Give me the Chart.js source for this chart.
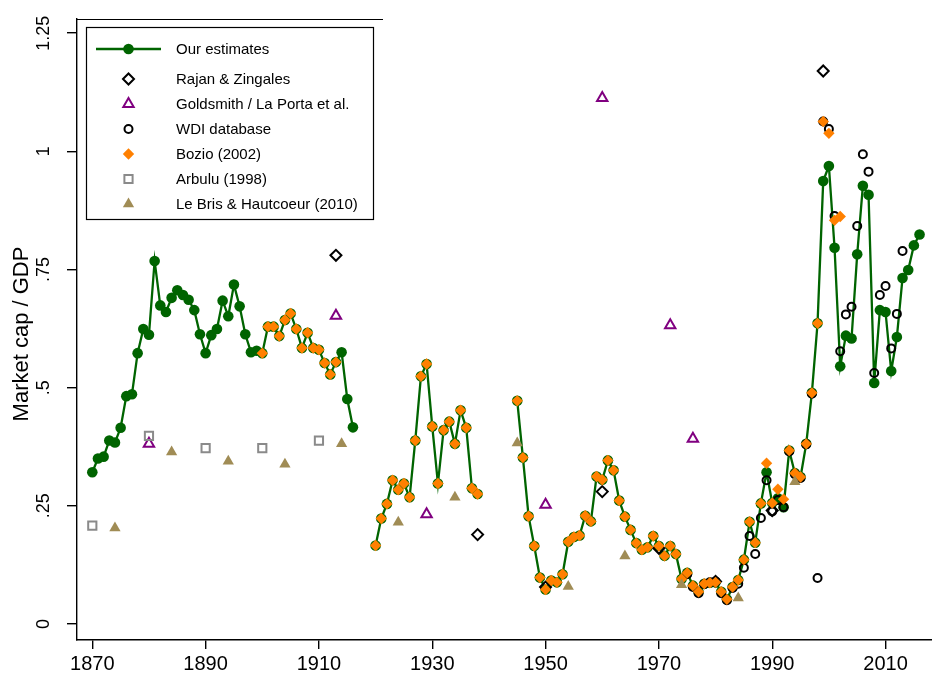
<!DOCTYPE html>
<html>
<head>
<meta charset="utf-8">
<script src="https://cdn.jsdelivr.net/npm/chart.js@4.4.1/dist/chart.umd.min.js"></script>
<style>
  html, body { margin: 0; padding: 0; background: #fff; }
</style>
</head>
<body>
<canvas id="myChart" width="932" height="673"></canvas>
<script>
// tick labels
const xTicks = [1870, 1890, 1910, 1930, 1950, 1970, 1990, 2010];
const yTicks = [0, 0.25, 0.5, 0.75, 1, 1.25];
const yTickLabels = ["0", ".25", ".5", ".75", "1", "1.25"];

// Our estimates, one value per year from 1870 (null = no data)
const estStart = 1870;
const estValues = [
  0.321, 0.35, 0.354, 0.388, 0.384, 0.415, 0.482, 0.486, 0.573, 0.624,
  0.612, 0.768, 0.674, 0.66, 0.69, 0.706, 0.696, 0.686, 0.664, 0.613,
  0.573, 0.611, 0.624, 0.684, 0.651, 0.718, 0.672, 0.613, 0.575, 0.578,
  0.573, 0.629, 0.629, 0.609, 0.643, 0.657, 0.624, 0.584, 0.616, 0.584,
  0.58, 0.552, 0.528, 0.554, 0.575, 0.476, 0.416, null, null, null,
  0.166, 0.223, 0.254, 0.304, 0.284, 0.297, 0.268, 0.388, 0.524, 0.55,
  0.418, 0.297, 0.41, 0.428, 0.381, 0.452, 0.415, 0.287, 0.275, null,
  null, null, null, null, null, 0.472, 0.352, 0.228, 0.165, 0.098,
  0.073, 0.092, 0.088, 0.105, 0.174, 0.184, 0.187, 0.229, 0.217, 0.312,
  0.305, 0.346, 0.325, 0.261, 0.227, 0.199, 0.171, 0.157, 0.162, 0.186,
  0.165, 0.144, 0.165, 0.148, 0.095, 0.108, 0.081, 0.068, 0.085, 0.087,
  0.088, 0.068, 0.052, 0.078, 0.093, 0.136, 0.216, 0.172, 0.255, 0.321,
  0.256, 0.266, 0.247, 0.367, 0.319, 0.311, 0.381, 0.489, 0.636, 0.937,
  0.969, 0.796, 0.545, 0.61, 0.604, 0.782, 0.927, 0.908, 0.51, 0.664,
  0.66, 0.535, 0.607, 0.732, 0.749, 0.801, 0.824
];

// Bozio (2002), one value per year from 1900
const bozioStart = 1900;
const bozioValues = [
  0.573, 0.629, 0.629, 0.609, 0.643, 0.657, 0.624, 0.584, 0.616, 0.584,
  0.58, 0.552, 0.528, 0.554, null, null, null, null, null, null,
  0.166, 0.223, 0.254, 0.304, 0.284, 0.297, 0.268, 0.388, 0.524, 0.55,
  0.418, 0.297, 0.41, 0.428, 0.381, 0.452, 0.415, 0.287, 0.275, null,
  null, null, null, null, null, 0.472, 0.352, 0.228, 0.165, 0.098,
  0.073, 0.092, 0.088, 0.105, 0.174, 0.184, 0.187, 0.229, 0.217, 0.312,
  0.305, 0.346, 0.325, 0.261, 0.227, 0.199, 0.171, 0.157, 0.162, 0.186,
  0.165, 0.144, 0.165, 0.148, 0.095, 0.108, 0.081, 0.068, 0.085, 0.087,
  0.088, 0.068, 0.052, 0.078, 0.093, 0.136, 0.216, 0.172, 0.255, 0.34,
  0.256, 0.285, 0.264, 0.367, 0.319, 0.311, 0.381, 0.489, 0.636, 1.063,
  1.038, 0.854, 0.862
];

// WDI database, one value per year from 1975
const wdiStart = 1975;
const wdiValues = [
  0.105, 0.078, 0.065, 0.084, 0.088, 0.09, 0.065, 0.05, 0.076, 0.085,
  0.119, 0.186, 0.148, 0.224, 0.304, 0.238, 0.262, 0.247, 0.365, 0.317,
  0.309, 0.38, 0.487, 0.097, 1.063, 1.047, 0.863, 0.577, 0.655, 0.671,
  0.842, 0.994, 0.957, 0.531, 0.696, 0.715, 0.583, 0.656, 0.789
];

// Rajan & Zingales
const rzYears = [1913, 1938, 1950, 1960, 1970, 1980, 1990, 1999];
const rzValues = [0.78, 0.189, 0.078, 0.28, 0.16, 0.09, 0.24, 1.17];

// Goldsmith / La Porta et al.
const gsYears = [1880, 1913, 1929, 1950, 1960, 1972, 1976];
const gsValues = [0.381, 0.652, 0.232, 0.252, 1.113, 0.632, 0.392];

// Arbulu (1998)
const arbYears = [1870, 1880, 1890, 1900, 1910];
const arbValues = [0.208, 0.398, 0.372, 0.372, 0.388];

// Le Bris & Hautcoeur (2010)
const lbYears = [1874, 1884, 1894, 1904, 1914, 1924, 1934, 1945, 1954, 1964, 1974, 1984, 1994];
const lbValues = [0.203, 0.364, 0.344, 0.338, 0.381, 0.215, 0.268, 0.383, 0.079, 0.144, 0.083, 0.055, 0.301];

const green = "#006400";
const orange = "#ff8000";
const purple = "#800080";
const grey = "#8a8a8a";
const sand = "#a08c55";
const font = "'Liberation Sans', Arial, sans-serif";

function fromStart(start, values) {
  return values.map((v, i) => ({ x: start + i, y: v }));
}
function pairs(years, values) {
  return years.map((yr, i) => ({ x: yr, y: values[i] }));
}

const legendItems = [
  { label: "Our estimates", style: "circle", radius: 5.3, fill: green, stroke: green, width: 0, line: true },
  { label: "Rajan & Zingales", style: "rectRot", radius: 5.5, fill: "rgba(0,0,0,0)", stroke: "#000", width: 2 },
  { label: "Goldsmith / La Porta et al.", style: "triangle", radius: 6, fill: "rgba(0,0,0,0)", stroke: purple, width: 2 },
  { label: "WDI database", style: "circle", radius: 4, fill: "rgba(0,0,0,0)", stroke: "#000", width: 2 },
  { label: "Bozio (2002)", style: "rectRot", radius: 5.7, fill: orange, stroke: orange, width: 0 },
  { label: "Arbulu (1998)", style: "rect", radius: 5.8, fill: "rgba(0,0,0,0)", stroke: grey, width: 2 },
  { label: "Le Bris & Hautcoeur (2010)", style: "triangle", radius: 6.5, fill: sand, stroke: sand, width: 0 }
];

function pointDataset(item, data, order) {
  return {
    type: "scatter",
    label: item.label,
    data: data,
    order: order,
    pointStyle: item.style,
    pointRadius: item.radius,
    pointBackgroundColor: item.fill,
    pointBorderColor: item.stroke,
    pointBorderWidth: item.width,
    showLine: false
  };
}

const datasets = [
  {
    type: "line",
    label: "Our estimates",
    data: fromStart(estStart, estValues),
    order: 7,
    borderColor: green,
    borderWidth: 2.3,
    tension: 0,
    spanGaps: false,
    pointStyle: "circle",
    pointRadius: 5.3,
    pointBackgroundColor: green,
    pointBorderWidth: 0
  },
  pointDataset(legendItems[1], pairs(rzYears, rzValues), 6),
  pointDataset(legendItems[2], pairs(gsYears, gsValues), 5),
  pointDataset(legendItems[3], fromStart(wdiStart, wdiValues), 4),
  pointDataset(legendItems[4], fromStart(bozioStart, bozioValues), 3),
  pointDataset(legendItems[5], pairs(arbYears, arbValues), 2),
  pointDataset(legendItems[6], pairs(lbYears, lbValues), 1)
];

function marker(ctx, item, x, y) {
  ctx.save();
  ctx.fillStyle = item.fill;
  ctx.strokeStyle = item.stroke;
  ctx.lineWidth = item.width;
  Chart.helpers.drawPoint(ctx, { pointStyle: item.style, radius: item.radius, rotation: 0, borderWidth: item.width }, x, y);
  ctx.restore();
}

const decorations = {
  id: "decorations",
  afterDraw(chart) {
    const ctx = chart.ctx;
    const yScale = chart.scales.y;
    ctx.save();
    ctx.fillStyle = "#000";
    // rotated y tick labels
    ctx.font = "18px " + font;
    ctx.textAlign = "center";
    ctx.textBaseline = "middle";
    yTicks.forEach((v, i) => {
      const py = yScale.getPixelForValue(v);
      ctx.save();
      ctx.translate(44, py);
      ctx.rotate(-Math.PI / 2);
      ctx.fillText(yTickLabels[i], 0, 0);
      ctx.restore();
    });
    // y title
    ctx.save();
    ctx.font = "22px " + font;
    ctx.translate(22, 334);
    ctx.rotate(-Math.PI / 2);
    ctx.fillText("Market cap / GDP", 0, 0);
    ctx.restore();

    // legend
    ctx.fillStyle = "#fff";
    ctx.fillRect(79, 20, 304, 208);
    ctx.strokeStyle = "#000";
    ctx.lineWidth = 1.2;
    ctx.strokeRect(86.5, 27.5, 287, 192);
    ctx.beginPath();
    ctx.moveTo(77, 19.5);
    ctx.lineTo(383, 19.5);
    ctx.stroke();
    ctx.font = "15px " + font;
    ctx.textAlign = "left";
    const rowsY = [49, 79, 104, 129, 154, 179, 204];
    legendItems.forEach((item, i) => {
      const y = rowsY[i];
      if (item.line) {
        ctx.save();
        ctx.strokeStyle = green;
        ctx.lineWidth = 2.3;
        ctx.beginPath();
        ctx.moveTo(96, y);
        ctx.lineTo(161, y);
        ctx.stroke();
        ctx.restore();
      }
      marker(ctx, item, 128.5, y);
      ctx.fillStyle = "#000";
      ctx.fillText(item.label, 176, y + 1);
    });
    ctx.restore();
  }
};

const axisLine = { color: "#000", width: 1.4 };
const tickGrid = { drawOnChartArea: false, drawTicks: true, color: "#000", lineWidth: 1.4 };

new Chart(document.getElementById("myChart"), {
  data: { datasets: datasets },
  options: {
    responsive: false,
    animation: false,
    layout: { autoPadding: false, padding: { top: 19, right: 0, left: 0, bottom: 0 } },
    plugins: { legend: { display: false }, tooltip: { enabled: false } },
    scales: {
      x: {
        type: "linear",
        min: 1867.3,
        max: 2018.2,
        afterFit(scale) { scale.height = 33; },
        afterBuildTicks(scale) { scale.ticks = xTicks.map((v) => ({ value: v })); },
        ticks: {
          callback: (v) => String(v),
          color: "#000",
          font: { family: font, size: 20 },
          padding: 3,
          maxRotation: 0,
          autoSkip: false
        },
        grid: Object.assign({ tickLength: 9 }, tickGrid),
        border: axisLine
      },
      y: {
        type: "linear",
        min: -0.034,
        max: 1.28,
        afterFit(scale) { scale.width = 77; },
        afterBuildTicks(scale) { scale.ticks = yTicks.map((v) => ({ value: v })); },
        ticks: { display: false },
        grid: Object.assign({ tickLength: 10 }, tickGrid),
        border: axisLine
      }
    }
  },
  plugins: [decorations]
});
</script>
</body>
</html>
